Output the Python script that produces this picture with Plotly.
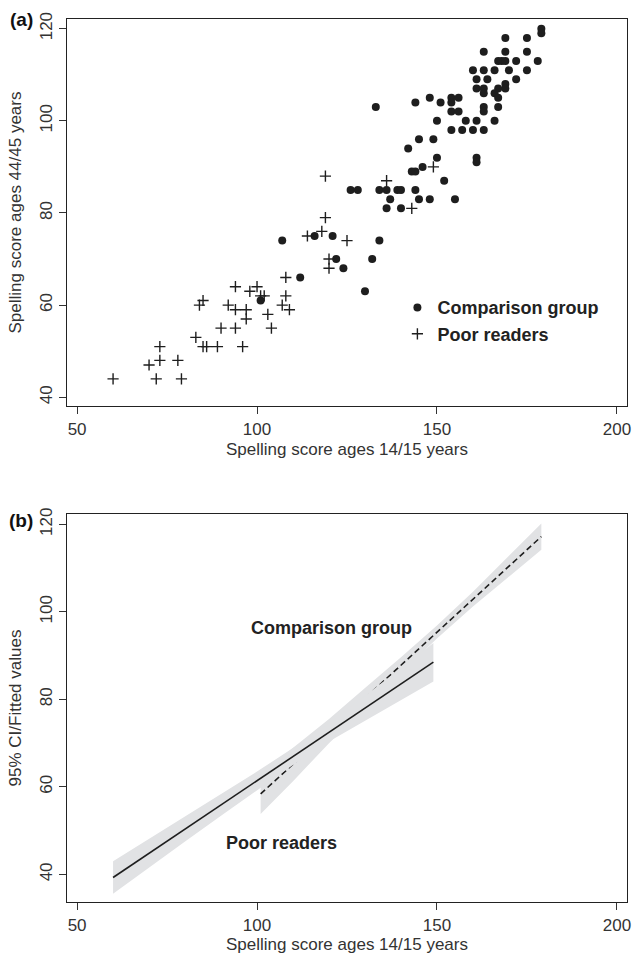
import plotly.graph_objects as go

# ---------------- Panel (a) data ----------------
comp_x = [179, 179, 169, 175, 163, 169, 175, 167, 168, 169, 172, 178,
          160, 163, 166, 170, 175, 161, 164, 172, 169, 161, 163, 167, 169,
          163, 166, 148, 154, 156, 167, 144, 151, 154, 133, 163, 167,
          154, 156, 163, 150, 158, 161, 166, 154, 157, 160, 163, 145, 149,
          142, 150, 161, 161, 146, 143, 144, 152,
          126, 128, 134, 136, 139, 140, 144, 137, 145, 148, 155, 136, 140,
          116, 121, 107, 134, 122, 132, 124, 112, 130, 101]
comp_y = [120, 119, 118, 118, 115, 115, 115, 113, 113, 113, 113, 113,
          111, 111, 111, 111, 111, 109, 109, 109, 108, 107, 107, 107, 107,
          106, 106, 105, 105, 105, 105, 104, 104, 104, 103, 103, 103,
          102, 102, 102, 100, 100, 100, 100, 98, 98, 98, 98, 96, 96,
          94, 92, 92, 91, 90, 89, 89, 87,
          85, 85, 85, 85, 85, 85, 85, 83, 83, 83, 83, 81, 81,
          75, 75, 74, 74, 70, 70, 68, 66, 63, 61]

poor_x = [60, 72, 79, 70, 73, 78, 73, 85, 86, 89, 96, 83, 90, 94, 104, 97,
          103, 94, 97, 109, 84, 92, 107, 85, 101, 102, 108, 98, 94, 100,
          108, 120, 120, 125, 114, 118, 119, 143, 136, 119, 149]
poor_y = [44, 44, 44, 47, 48, 48, 51, 51, 51, 51, 51, 53, 55, 55, 55, 57,
          58, 59, 59, 59, 60, 60, 60, 61, 62, 62, 62, 63, 64, 64,
          66, 68, 70, 74, 75, 76, 79, 81, 87, 88, 90]

# ---------------- Panel (b) data ----------------
poor_fit_x = [60, 149]
poor_fit_y = [39.3, 88.5]
poor_ci_x = [60, 70, 80, 90, 100, 110, 120, 130, 140, 149]
poor_ci_lo = [35.6, 41.5, 47.5, 53.4, 59.3, 65.0, 70.4, 75.2, 79.9, 84.1]
poor_ci_hi = [43.0, 48.1, 53.3, 58.4, 63.5, 68.9, 74.6, 80.8, 87.1, 92.9]

comp_fit_x = [101, 179]
comp_fit_y = [58.4, 117.2]
comp_ci_x = [101, 110, 120, 130, 140, 150, 160, 170, 179]
comp_ci_lo = [53.8, 61.3, 70.0, 78.0, 86.1, 93.9, 101.2, 108.1, 114.2]
comp_ci_hi = [63.0, 69.0, 75.5, 82.6, 89.6, 96.9, 104.6, 112.8, 120.2]

x_ticks = [50, 100, 150, 200]
y_ticks = [40, 60, 80, 100, 120]

FONT = "Liberation Sans, Arial, Helvetica, sans-serif"
INK = "#1e1e1e"
BAND = "#e1e2e4"

fig = go.Figure()

fig.add_trace(go.Scatter(
    x=comp_x, y=comp_y, mode="markers", name="Comparison group",
    marker=dict(symbol="circle", size=8, color=INK, line=dict(width=0)),
    xaxis="x", yaxis="y"))
fig.add_trace(go.Scatter(
    x=poor_x, y=poor_y, mode="markers", name="Poor readers",
    marker=dict(symbol="cross-thin", size=8, color=INK,
                line=dict(width=1.4, color=INK)),
    xaxis="x", yaxis="y"))

# panel (b): comparison band + dashed line, then poor band + solid line
fig.add_trace(go.Scatter(
    x=comp_ci_x + comp_ci_x[::-1], y=comp_ci_hi + comp_ci_lo[::-1],
    fill="toself", fillcolor=BAND, line=dict(width=0), mode="lines",
    hoverinfo="skip", showlegend=False, xaxis="x2", yaxis="y2"))
fig.add_trace(go.Scatter(
    x=comp_fit_x, y=comp_fit_y, mode="lines", showlegend=False,
    line=dict(color=INK, width=1.6, dash="6px,3.5px"),
    xaxis="x2", yaxis="y2"))
fig.add_trace(go.Scatter(
    x=poor_ci_x + poor_ci_x[::-1], y=poor_ci_hi + poor_ci_lo[::-1],
    fill="toself", fillcolor=BAND, line=dict(width=0), mode="lines",
    hoverinfo="skip", showlegend=False, xaxis="x2", yaxis="y2"))
fig.add_trace(go.Scatter(
    x=poor_fit_x, y=poor_fit_y, mode="lines", showlegend=False,
    line=dict(color=INK, width=1.6),
    xaxis="x2", yaxis="y2"))

common_x = dict(range=[47.2, 202.8], tickvals=x_ticks, ticks="outside",
                ticklen=7, tickwidth=1.2, tickcolor="#333",
                showline=True, mirror=True, linecolor="#222", linewidth=1.3,
                showgrid=False, zeroline=False,
                tickfont=dict(family=FONT, size=17, color="#333"))
common_y = dict(tickvals=y_ticks, ticks="outside", ticklen=7, tickwidth=1.2,
                tickcolor="#333", tickangle=-90,
                showline=True, mirror=True, linecolor="#222", linewidth=1.3,
                showgrid=False, zeroline=False,
                tickfont=dict(family=FONT, size=17, color="#333"))

fig.update_layout(
    width=638, height=957,
    margin=dict(l=67, r=7, t=19, b=55),
    paper_bgcolor="white", plot_bgcolor="white",
    font=dict(family=FONT, color="#333"),
    xaxis=dict(domain=[0, 1], anchor="y",
               title=dict(text="Spelling score ages 14/15 years",
                          font=dict(size=17), standoff=5), **common_x),
    yaxis=dict(domain=[0.5617, 1], anchor="x", range=[38.1, 122.1],
               title=dict(text="Spelling score ages 44/45 years",
                          font=dict(size=17), standoff=11), **common_y),
    xaxis2=dict(domain=[0, 1], anchor="y2",
                title=dict(text="Spelling score ages 14/15 years",
                           font=dict(size=17), standoff=0), **common_x),
    yaxis2=dict(domain=[0, 0.4394], anchor="x2", range=[33.7, 122.35],
                title=dict(text="95% CI/Fitted values",
                           font=dict(size=17), standoff=11), **common_y),
    showlegend=True,
    legend=dict(x=0.590, y=0.694, xanchor="left", yanchor="top",
                bgcolor="rgba(0,0,0,0)", tracegroupgap=0,
                font=dict(family=FONT, size=18, color="#222", weight="bold")),
    annotations=[
        dict(text="<b>(a)</b>", xref="paper", yref="paper",
             x=-0.0816, y=0.9989, xanchor="center", yanchor="middle",
             showarrow=False, font=dict(family=FONT, size=19, color="#111")),
        dict(text="<b>(b)</b>", xref="paper", yref="paper",
             x=-0.0816, y=0.4326, xanchor="center", yanchor="middle",
             showarrow=False, font=dict(family=FONT, size=19, color="#111")),
        dict(text="<b>Comparison group</b>", xref="x2", yref="y2",
             x=120.8, y=96.2, showarrow=False,
             font=dict(family=FONT, size=18, color="#222")),
        dict(text="<b>Poor readers</b>", xref="x2", yref="y2",
             x=106.9, y=47.1, showarrow=False,
             font=dict(family=FONT, size=18, color="#222")),
    ],
)

fig.write_html("out.html",
               config={"displayModeBar": False},
               post_script="document.body.style.margin='0';"
                           "document.body.style.overflow='hidden';")
